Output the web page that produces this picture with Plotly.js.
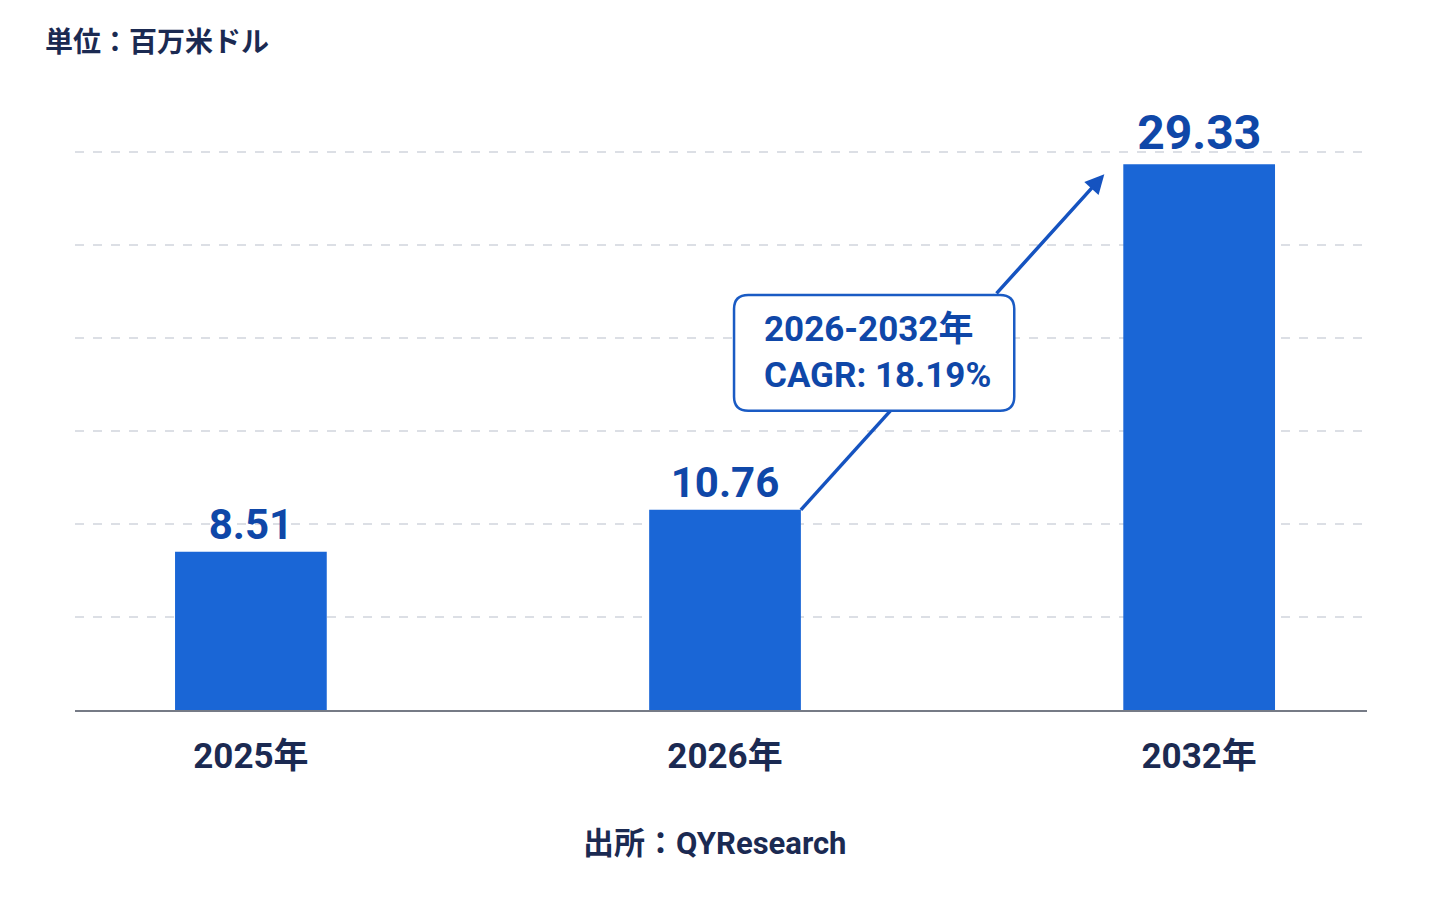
<!DOCTYPE html>
<html>
<head>
<meta charset="utf-8">
<script src="https://cdn.plot.ly/plotly-3.0.1.min.js"></script>
<style>
  html, body { margin: 0; padding: 0; background: #ffffff; }
  #chart { width: 1431px; height: 905px; }
</style>
</head>
<body>
<div id="chart"></div>
<script>
// data
let years = ["2025年", "2026年", "2032年"];
let values = [8.51, 10.76, 29.33];
let label_sizes = [42, 42, 48];
let unit_text = "単位：百万米ドル";
let source_text = "出所：QYResearch";
let cagr_lines = ["2026-2032年", "CAGR: 18.19%"];

const font_family = "Roboto, 'Noto Sans CJK JP', sans-serif";
const dark_navy = "#1b2a52";
const value_blue = "#0f47a8";
const arrow_blue = "#1553c0";

// arrow from top right of the 2026 bar to the 2032 bar
let arrow_start = [1.16, values[1]];
let arrow_end = [1.80, 28.8];

// callout box (data units on the category / value axes)
let box_x0 = 1.019, box_x1 = 1.610;
let box_y0 = 16.08, box_y1 = 22.31;
let rx = 0.03, ry = 0.75;

function roundedBox(x0, x1, y0, y1) {
	return "M " + (x0 + rx) + "," + y1 +
		" L " + (x1 - rx) + "," + y1 +
		" Q " + x1 + "," + y1 + " " + x1 + "," + (y1 - ry) +
		" L " + x1 + "," + (y0 + ry) +
		" Q " + x1 + "," + y0 + " " + (x1 - rx) + "," + y0 +
		" L " + (x0 + rx) + "," + y0 +
		" Q " + x0 + "," + y0 + " " + x0 + "," + (y0 + ry) +
		" L " + x0 + "," + (y1 - ry) +
		" Q " + x0 + "," + y1 + " " + (x0 + rx) + "," + y1 + " Z";
}

// where the arrow leaves the box top
let t_top = (box_y1 - arrow_start[1]) / (arrow_end[1] - arrow_start[1]);
let tail_x = arrow_start[0] + t_top * (arrow_end[0] - arrow_start[0]);

let bars = {
	type: "bar",
	x: years,
	y: values,
	width: 0.32,
	marker: {
		color: "#1a66d6",
		line: {width: 0}
	},
	texttemplate: "%{y:.2f}",
	textposition: "outside",
	cliponaxis: false,
	textfont: {family: font_family, size: label_sizes, color: value_blue, weight: "bold"},
	hoverinfo: "skip"
};

let layout = {
	width: 1431,
	height: 905,
	margin: {l: 75, r: 64, t: 96, b: 195},
	paper_bgcolor: "#ffffff",
	plot_bgcolor: "#ffffff",
	showlegend: false,
	font: {family: font_family, color: dark_navy},
	title: {
		text: "<b>" + unit_text + "</b>",
		x: 45 / 1431,
		xanchor: "left",
		xref: "container",
		y: 1 - 42 / 905,
		yanchor: "middle",
		yref: "container",
		font: {family: font_family, size: 28, color: dark_navy}
	},
	xaxis: {
		type: "category",
		range: [-0.371, 2.354],
		showline: true,
		linecolor: "#767b86",
		linewidth: 2,
		showgrid: false,
		ticks: "",
		ticklabelstandoff: 14,
		tickfont: {family: font_family, size: 35, color: dark_navy, weight: "bold"},
		fixedrange: true
	},
	yaxis: {
		range: [0, 33],
		dtick: 5,
		tick0: 0,
		showticklabels: false,
		showline: false,
		zeroline: false,
		showgrid: true,
		gridcolor: "#dcdfe5",
		gridwidth: 1.5,
		griddash: "dash",
		fixedrange: true
	},
	shapes: [
		{
			type: "line", xref: "x", yref: "y", layer: "above",
			x0: arrow_start[0], y0: arrow_start[1],
			x1: tail_x, y1: box_y1,
			line: {color: arrow_blue, width: 3.5}
		},
		{
			type: "path", xref: "x", yref: "y", layer: "above",
			path: roundedBox(box_x0, box_x1, box_y0, box_y1),
			fillcolor: "#ffffff",
			line: {color: "#1a5bc4", width: 2.5}
		}
	],
	annotations: [
		{
			xref: "x", yref: "y", axref: "x", ayref: "y",
			x: arrow_end[0], y: arrow_end[1],
			ax: tail_x, ay: box_y1,
			text: "",
			showarrow: true,
			arrowhead: 2,
			arrowsize: 1.1,
			arrowwidth: 3.5,
			arrowcolor: arrow_blue
		},
		{
			xref: "x", yref: "y",
			x: 1.078, y: 19.19,
			xanchor: "left", yanchor: "middle",
			align: "left",
			showarrow: false,
			text: "<b>" + cagr_lines[0] + "</b><br><b>" + cagr_lines[1] + "</b>",
			font: {family: font_family, size: 35, color: value_blue}
		},
		{
			xref: "paper", yref: "paper",
			x: (714 - 75) / 1292, y: (710 - 843) / 614,
			xanchor: "center", yanchor: "middle",
			showarrow: false,
			text: "<b>" + source_text + "</b>",
			font: {family: font_family, size: 31, color: dark_navy}
		}
	]
};

Plotly.newPlot("chart", [bars], layout, {displayModeBar: false, staticPlot: true});
</script>
</body>
</html>
